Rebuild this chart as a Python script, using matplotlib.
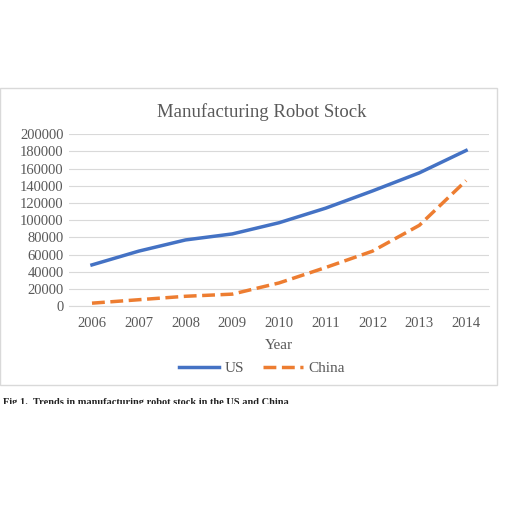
import matplotlib.pyplot as plt
from matplotlib.patches import Rectangle

years = [2006, 2007, 2008, 2009, 2010, 2011, 2012, 2013, 2014]
us = [48000, 64000, 77000, 84000, 97000, 114000, 134000, 155000, 181000]
china = [3500, 7500, 11500, 14000, 27000, 45000, 64000, 94000, 146000]

plt.rcParams['font.family'] = ['Liberation Serif', 'DejaVu Serif']
fig = plt.figure(figsize=(5.12, 5.12), dpi=100)

# chart frame
fig.patches.append(Rectangle((0.0, 0.248), 0.971, 0.58, transform=fig.transFigure,
                             fill=False, edgecolor='#d9d9d9', linewidth=1))

ax = fig.add_axes([0.134, 0.402, 0.822, 0.336])
ax.plot(years, us, color='#4472c4', linewidth=2.5, label='US')
ax.plot(years, china, color='#ed7d31', linewidth=2.5, linestyle='--', label='China')
ax.set_xlim(2005.5, 2014.5)
ax.set_ylim(0, 200000)
ax.set_yticks(range(0, 200001, 20000))
ax.set_xticks(years)
ax.grid(axis='y', color='#d9d9d9', linewidth=0.8)
ax.set_axisbelow(True)
for s in ['top', 'right', 'left']:
    ax.spines[s].set_visible(False)
ax.spines['bottom'].set_color('#d9d9d9')
ax.tick_params(length=0, labelsize=10.5, colors='#595959')
ax.tick_params(axis='x', pad=8)
ax.set_xlabel('Year', fontsize=11, color='#595959', labelpad=6)
ax.set_title('Manufacturing Robot Stock', fontsize=13.5, color='#595959', pad=12,
             x=0.46)
ax.legend(loc='upper center', bbox_to_anchor=(0.46, -0.24), ncol=2, frameon=False,
          fontsize=11, handlelength=2.6, columnspacing=1.2, handletextpad=0.4,
          labelcolor='#595959')

fig.text(0.005, 0.214, 'Fig 1.  Trends in manufacturing robot stock in the US and China',
         fontsize=7.5, fontweight='bold', color='#222222', va='center')
# caption is cut off at the bottom in the source image
fig.patches.append(Rectangle((0, 0), 1, 0.210, transform=fig.transFigure,
                             facecolor='white', edgecolor='none', zorder=10))

fig.savefig('out.png', dpi=100, facecolor='white')
